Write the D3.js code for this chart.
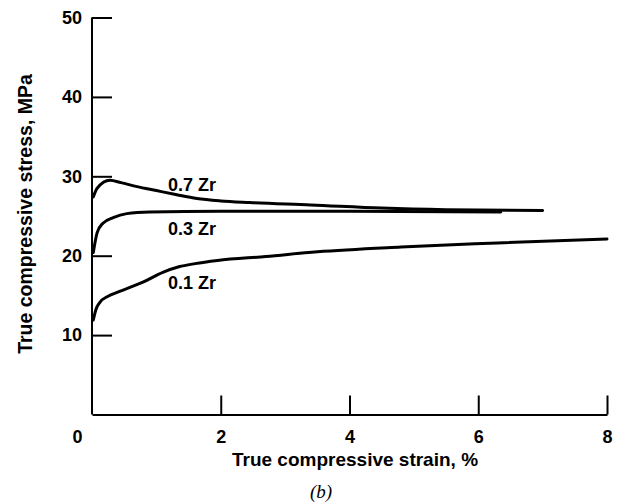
<!DOCTYPE html>
<html lang="en">
<head>
    <meta charset="UTF-8">
    <title>True compressive stress vs strain</title>
    <script src="https://d3js.org/d3.v7.min.js"></script>
    <style>
        body { margin: 0; background-color: white; }
        svg { display: block; }
        .axis path, .axis line { stroke: black; stroke-width: 2px; }
        .axis text { font-family: "Liberation Sans", Arial, sans-serif; font-weight: bold; font-size: 18px; fill: black; }
        .title { font-family: "Liberation Sans", Arial, sans-serif; font-weight: bold; font-size: 19px; fill: black; }
        .curve-label { font-family: "Liberation Sans", Arial, sans-serif; font-weight: bold; font-size: 18px; fill: black; }
    </style>
</head>
<body>
    <div id="chart"></div>
    <script>
        const width = 625,
            height = 504;

        // strain (%) / stress (MPa) readings for each alloy
        const strain01 = [0.02, 0.06, 0.12, 0.25, 0.4, 0.8, 1.1, 1.35, 1.6, 1.95, 2.7, 3.5, 4.8, 6.3, 8.0];
        const stress01 = [11.9, 13.2, 14.1, 14.9, 15.4, 16.7, 17.9, 18.6, 19.0, 19.4, 19.9, 20.5, 21.1, 21.6, 22.1];

        const strain03 = [0.02, 0.08, 0.17, 0.33, 0.54, 0.9, 2.0, 4.0, 6.35];
        const stress03 = [20.4, 22.9, 24.1, 24.8, 25.3, 25.5, 25.6, 25.6, 25.5];

        const strain07 = [0.02, 0.08, 0.28, 0.45, 0.7, 1.0, 1.3, 1.63, 2.0, 2.45, 3.4, 4.5, 5.5, 7.0];
        const stress07 = [27.4, 28.5, 29.5, 29.2, 28.7, 28.2, 27.7, 27.2, 26.9, 26.7, 26.4, 26.0, 25.8, 25.7];

        const seriesNames = ["0.1 Zr", "0.3 Zr", "0.7 Zr"];
        // label anchor (strain, stress at baseline)
        const labelStrain = [1.18, 1.18, 1.18];
        const labelStress = [15.8, 22.6, 28.1];

        const xTicks = [0, 2, 4, 6, 8];
        const yTicks = [10, 20, 30, 40, 50];

        const series = [
            d3.zip(strain01, stress01),
            d3.zip(strain03, stress03),
            d3.zip(strain07, stress07)
        ];

        const x = d3.scaleLinear().domain([0, 8]).range([92, 607]);
        const y = d3.scaleLinear().domain([0, 50]).range([414.5, 17.5]);

        const svg = d3.select("#chart")
            .append("svg")
            .attr("width", width)
            .attr("height", height);

        // x axis, ticks pointing inward
        const xAxis = svg.append("g")
            .attr("class", "axis")
            .attr("transform", `translate(0,${y(0)})`)
            .call(d3.axisBottom(x).tickValues(xTicks).tickFormat(d3.format("d"))
                .tickSizeInner(-19).tickSizeOuter(0).tickPadding(16));
        xAxis.selectAll(".tick").filter(d => d === 0).select("line").remove();
        xAxis.selectAll(".tick").filter(d => d === 0).select("text").attr("x", -15);

        // y axis
        svg.append("g")
            .attr("class", "axis")
            .attr("transform", `translate(${x(0)},0)`)
            .call(d3.axisLeft(y).tickValues(yTicks).tickFormat(d3.format("d"))
                .tickSizeInner(-20).tickSizeOuter(0).tickPadding(10))
            .call(g => g.select(".domain").attr("d", `M0,${y(0)}V${y(50)}`));

        // curves
        const line = d3.line()
            .x(d => x(d[0]))
            .y(d => y(d[1]))
            .curve(d3.curveMonotoneX);

        svg.selectAll(".curve")
            .data(series)
            .enter()
            .append("path")
            .attr("class", "curve")
            .attr("d", line)
            .attr("fill", "none")
            .attr("stroke", "black")
            .attr("stroke-width", 3)
            .attr("stroke-linecap", "round");

        svg.selectAll(".curve-label")
            .data(seriesNames)
            .enter()
            .append("text")
            .attr("class", "curve-label")
            .attr("x", (d, i) => x(labelStrain[i]))
            .attr("y", (d, i) => y(labelStress[i]))
            .text(d => d);

        // axis titles
        svg.append("text")
            .attr("class", "title")
            .attr("x", 355)
            .attr("y", 466)
            .attr("text-anchor", "middle")
            .text("True compressive strain, %");

        svg.append("text")
            .attr("class", "title")
            .attr("transform", "translate(32,214) rotate(-90)")
            .attr("text-anchor", "middle")
            .style("font-size", "19.5px")
            .text("True compressive stress, MPa");

        svg.append("text")
            .attr("x", 321)
            .attr("y", 498)
            .attr("text-anchor", "middle")
            .attr("font-family", "'Liberation Serif', 'DejaVu Serif', serif")
            .attr("font-style", "italic")
            .attr("font-size", "19px")
            .text("(b)");
    </script>
</body>
</html>
